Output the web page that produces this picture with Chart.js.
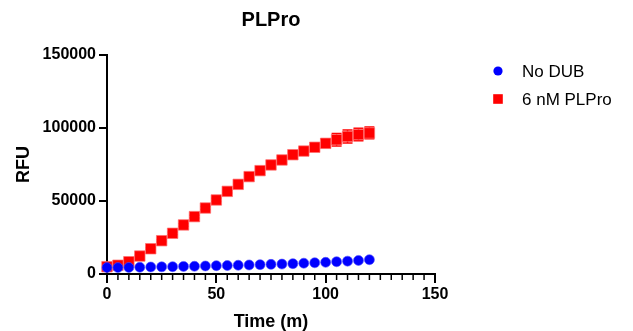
<!DOCTYPE html>
<html>
<head>
<meta charset="utf-8">
<script src="https://cdn.jsdelivr.net/npm/chart.js@4"></script>
<style>
html,body{margin:0;padding:0;background:#fff;}
#wrap{width:633px;height:331px;}
</style>
</head>
<body>
<div id="wrap"><canvas id="c" width="633" height="331"></canvas></div>
<script>
const chartTitle = "PLPro";
const xTitle = "Time (m)";
const yTitle = "RFU";
const seriesLabels = ["No DUB", "6 nM PLPro"];
const timeMin = [0,5,10,15,20,25,30,35,40,45,50,55,60,65,70,75,80,85,90,95,100,105,110,115,120];
const noDub = [4400,4400,4500,4600,4800,4900,5000,5200,5300,5500,5700,5800,6000,6200,6400,6600,6800,7100,7400,7700,8000,8400,8800,9300,9800];
const noDubErr = [0,0,0,0,0,0,0,0,0,0,0,0,0,0,0,0,0,0,0,0,0,0,0,0,0];
const plpro = [5000,6000,8400,12300,17300,22800,27900,33600,39300,45200,50700,56600,61400,66700,70800,74700,78100,81700,84200,86800,89500,92000,94200,95500,96600];
const plproErr = [300,300,400,500,600,700,800,900,1000,1000,1100,1200,1300,1400,1500,1600,1700,1800,2000,1800,2800,4300,4400,4300,4000];
const xTicks = [0,50,100,150];
const yTicks = [0,50000,100000,150000];
const xMinorStep = 5;
const FONT = '"Liberation Sans", Arial, sans-serif';

const errorBars = {
  id: 'errorBars',
  beforeDatasetsDraw(chart) {
    const ctx = chart.ctx;
    const xs = chart.scales.x, ys = chart.scales.y;
    const sets = [[noDub, noDubErr, '#0000ff'], [plpro, plproErr, '#ff0000']];
    ctx.save();
    sets.forEach(([vals, errs, col]) => {
      ctx.strokeStyle = col; ctx.lineWidth = 1.5;
      vals.forEach((v, i) => {
        if (!errs[i]) return;
        const px = xs.getPixelForValue(timeMin[i]);
        const y1 = ys.getPixelForValue(v + errs[i]);
        const y2 = ys.getPixelForValue(v - errs[i]);
        ctx.beginPath();
        ctx.moveTo(px, y1); ctx.lineTo(px, y2);
        ctx.moveTo(px - 5, y1); ctx.lineTo(px + 5, y1);
        ctx.moveTo(px - 5, y2); ctx.lineTo(px + 5, y2);
        ctx.stroke();
      });
    });
    ctx.restore();
  }
};

const extras = {
  id: 'extras',
  afterDraw(chart) {
    const ctx = chart.ctx;
    const xs = chart.scales.x;
    const ca = chart.chartArea;
    ctx.save();
    // minor ticks
    ctx.strokeStyle = '#000'; ctx.lineWidth = 1.5;
    for (let t = xs.min; t <= xs.max; t += xMinorStep) {
      if (xTicks.includes(t)) continue;
      const px = xs.getPixelForValue(t);
      ctx.beginPath(); ctx.moveTo(px, ca.bottom); ctx.lineTo(px, ca.bottom + 6); ctx.stroke();
    }
    // title
    ctx.fillStyle = '#000';
    ctx.font = 'bold 20px ' + FONT;
    ctx.textAlign = 'center'; ctx.textBaseline = 'middle';
    ctx.fillText(chartTitle, (ca.left + ca.right) / 2, 20);
    // legend
    const ds = chart.data.datasets;
    ctx.font = '17px ' + FONT;
    ctx.textAlign = 'left';
    const ly = [71, 99];
    ds.forEach((d, i) => {
      ctx.fillStyle = d.backgroundColor;
      if (d.pointStyle === 'circle') {
        ctx.beginPath(); ctx.arc(498, ly[i], 4.6, 0, Math.PI * 2); ctx.fill();
      } else {
        ctx.fillRect(498 - 4.8, ly[i] - 4.8, 9.6, 9.6);
      }
      ctx.fillStyle = '#000';
      ctx.fillText(d.label, 522, ly[i] + 1);
    });
    ctx.restore();
  }
};

new Chart(document.getElementById('c'), {
  type: 'scatter',
  data: {
    datasets: [
      {
        label: seriesLabels[0],
        data: timeMin.map((t, i) => ({x: t, y: noDub[i]})),
        backgroundColor: '#0000ff',
        borderColor: 'rgba(80,80,255,0.6)',
        borderWidth: 1,
        pointStyle: 'circle',
        pointRadius: 5,
        pointHoverRadius: 5,
        clip: false
      },
      {
        label: seriesLabels[1],
        data: timeMin.map((t, i) => ({x: t, y: plpro[i]})),
        backgroundColor: '#ff0000',
        borderColor: 'rgba(255,110,110,0.7)',
        borderWidth: 1,
        pointStyle: 'rect',
        pointRadius: 7.4,
        pointHoverRadius: 7.4,
        clip: false
      }
    ]
  },
  options: {
    responsive: false,
    animation: false,
    events: [],
    layout: { padding: { top: 55, right: 198, left: 0, bottom: 0 } },
    plugins: { legend: { display: false }, title: { display: false }, tooltip: { enabled: false } },
    scales: {
      x: {
        type: 'linear', min: 0, max: 150,
        afterFit(s) { s.height = 57; },
        afterBuildTicks(s) { s.ticks = xTicks.map(v => ({value: v})); },
        border: { display: true, color: '#000', width: 2 },
        grid: { drawOnChartArea: false, drawTicks: true, tickLength: 9, color: '#000', lineWidth: 2 },
        ticks: { color: '#000', font: { family: FONT, size: 16, weight: 'bold' }, padding: 2, maxRotation: 0, callback: v => String(v) },
        title: { display: true, text: xTitle, color: '#000', font: { family: FONT, size: 18, weight: 'bold', lineHeight: 1.0 }, padding: { top: 0, bottom: 0 } }
      },
      y: {
        type: 'linear', min: 0, max: 150000,
        afterFit(s) { s.width = 107; },
        afterBuildTicks(s) { s.ticks = yTicks.map(v => ({value: v})); },
        border: { display: true, color: '#000', width: 2 },
        grid: { drawOnChartArea: false, drawTicks: true, tickLength: 8, color: '#000', lineWidth: 2 },
        ticks: { color: '#000', font: { family: FONT, size: 16, weight: 'bold' }, padding: 3, callback: v => String(v) },
        title: { display: true, text: yTitle, color: '#000', font: { family: FONT, size: 18, weight: 'bold', lineHeight: 1.0 }, padding: { top: 15, bottom: 0 } }
      }
    }
  },
  plugins: [errorBars, extras]
});
</script>
</body>
</html>
